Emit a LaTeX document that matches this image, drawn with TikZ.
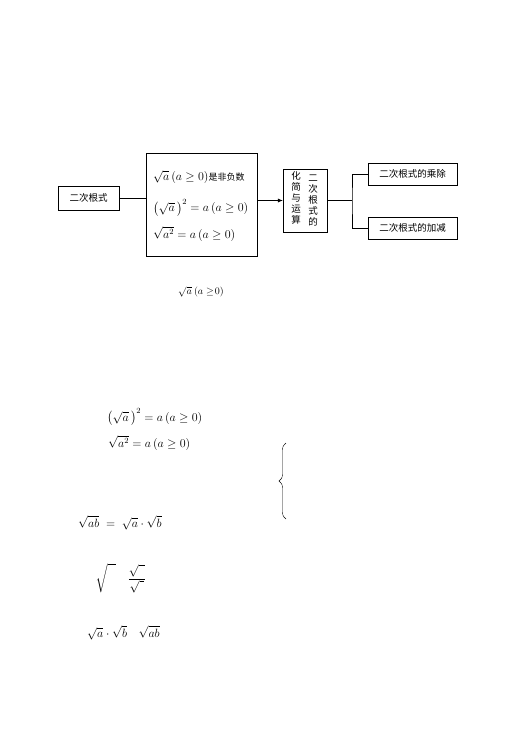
\documentclass[tikz,border=0pt]{standalone}
\usepackage{amsmath}
\usepackage{fontspec}
\newfontfamily\cjk{Noto Sans CJK SC}
\usetikzlibrary{arrows.meta,decorations.pathreplacing}

\tikzset{
  box/.style={draw, thin, inner sep=0pt},
  txt/.style={inner sep=0pt, anchor=west},
  big/.style={font=\cjk\fontsize{11.5}{13}\selectfont},
  vcol/.style={inner sep=0pt, align=center, font=\cjk\fontsize{9.5}{11}\selectfont},
}

\begin{document}
\begin{tikzpicture}[x=1pt, y=-1pt, font=\cjk\fontsize{9.5}{11}\selectfont]
        \useasboundingbox (0, 0) rectangle (521, 737);

        % the chart
        \node[box, minimum width=61pt, minimum height=24pt] (gen) at (88.5, 198) {二次根式};
        \node[box, minimum width=111pt, minimum height=103pt] (props) at (201.5, 204.5) {};
        \node[txt, big] (p1) at (153, 177) {$\sqrt{a}\,(a\geq 0)$\fontsize{9}{11}\selectfont 是非负数};
        \node[txt, big] (p2) at (153, 208) {$\bigl(\sqrt{a}\,\bigr)^{2} = a\,(a\geq 0)$};
        \node[txt, big] (p3) at (153, 234) {$\sqrt{a^{2}} = a\,(a\geq 0)$};
        \node[box, minimum width=44pt, minimum height=63pt] (ops) at (305, 200.5) {};
        \node[vcol] (c1) at (313, 200) {二\\次\\根\\式\\的};
        \node[vcol] (c2) at (296, 198) {化\\简\\与\\运\\算};
        \node[box, minimum width=89pt, minimum height=22pt] (mul) at (412.5, 174) {二次根式的乘除};
        \node[box, minimum width=89pt, minimum height=22pt] (add) at (412.5, 228) {二次根式的加减};
        \coordinate (fork) at (352, 200.5);

        \draw (gen.east) -- (gen.east -| props.west);
        \draw[-{Latex[length=5pt, width=4pt]}] (props.east |- ops.west) -- (ops.west);
        \draw (ops.east) -- (fork);
        \draw (mul.west) -| (fork) |- (add.west);

        % loose formulas below
        \node[inner sep=0pt, font=\cjk\fontsize{10}{12}\selectfont] (f1) at (201, 292) {$\sqrt{a}\ (a\geq\!0)$};
        \node[txt, big] (f2) at (107, 417) {$\bigl(\sqrt{a}\,\bigr)^{2} = a\,(a\geq 0)$};
        \node[txt, big] (f3) at (108, 443) {$\sqrt{a^{2}} = a\,(a\geq 0)$};
        \coordinate (bb) at (286, 519);
        \coordinate (bt) at (286, 443);
        \draw[decorate, decoration={brace, amplitude=7pt}] (bb) -- (bt);
        \node[txt, big] (f4) at (78, 523) {$\sqrt{ab} \;=\; \sqrt{a}\cdot\sqrt{b}$};
        \node[inner sep=0pt, big] (f5) at (106, 578) {$\sqrt{\phantom{\dfrac{a}{b}}}$};
        \node[inner sep=0pt, big] (f6) at (137, 579) {$\dfrac{\sqrt{\phantom{a}}}{\sqrt{\phantom{b}}}$};
        \node[txt, big] (f7) at (87, 633) {$\sqrt{a}\cdot\sqrt{b}\quad\sqrt{ab}$};
\end{tikzpicture}
\end{document}
